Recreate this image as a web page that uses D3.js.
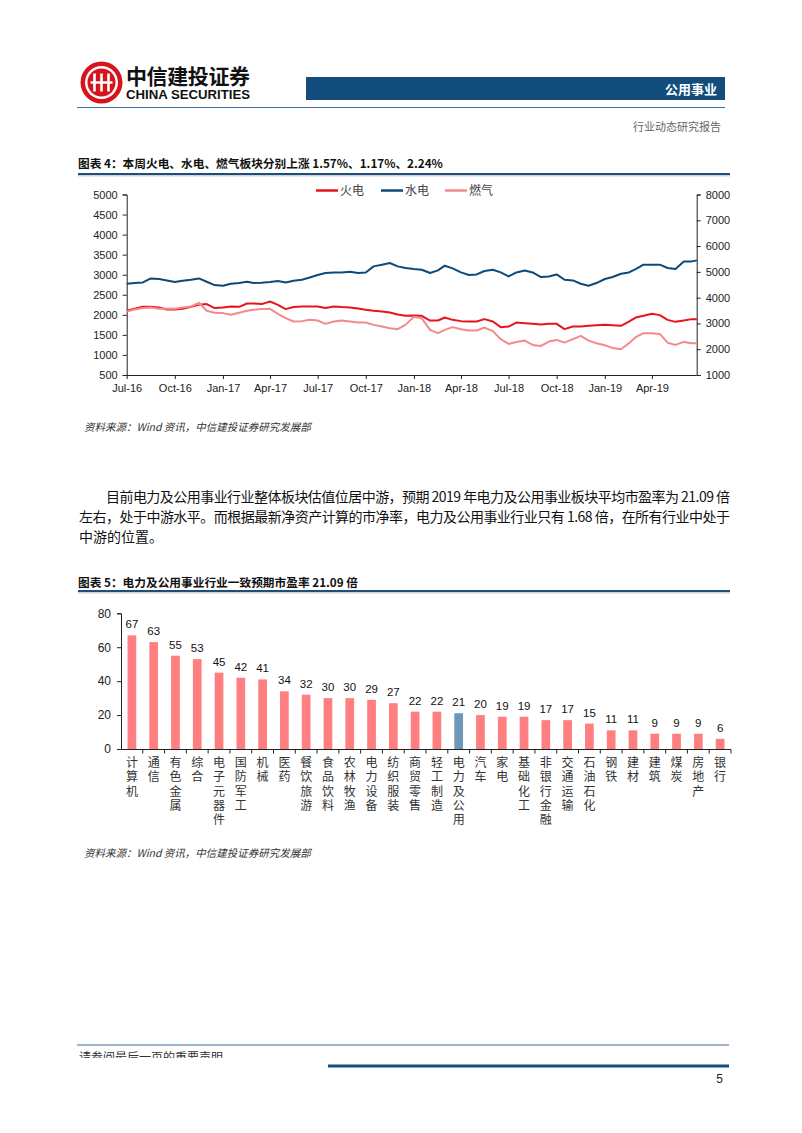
<!DOCTYPE html>
<html><head><meta charset="utf-8">
<script src="https://cdn.jsdelivr.net/npm/d3@7"></script>
<style>
html,body{margin:0;padding:0;background:#fff;}
svg{display:block;}
</style></head><body>
<svg id="page" width="802" height="1133"></svg>
<script>
// ---------- Figure 4 data (half-monthly readings) ----------
const dates = [
"2016-07-01","2016-07-16","2016-08-01","2016-08-16","2016-09-01","2016-09-16","2016-10-01","2016-10-16","2016-11-01","2016-11-16","2016-12-01","2016-12-16",
"2017-01-01","2017-01-16","2017-02-01","2017-02-16","2017-03-01","2017-03-16","2017-04-01","2017-04-16","2017-05-01","2017-05-16","2017-06-01","2017-06-16",
"2017-07-01","2017-07-16","2017-08-01","2017-08-16","2017-09-01","2017-09-16","2017-10-01","2017-10-16","2017-11-01","2017-11-16","2017-12-01","2017-12-16",
"2018-01-01","2018-01-16","2018-02-01","2018-02-16","2018-03-01","2018-03-16","2018-04-01","2018-04-16","2018-05-01","2018-05-16","2018-06-01","2018-06-16",
"2018-07-01","2018-07-16","2018-08-01","2018-08-16","2018-09-01","2018-09-16","2018-10-01","2018-10-16","2018-11-01","2018-11-16","2018-12-01","2018-12-16",
"2019-01-01","2019-01-16","2019-02-01","2019-02-16","2019-03-01","2019-03-16","2019-04-01","2019-04-16","2019-05-01","2019-05-16","2019-06-01","2019-06-16","2019-06-26"];
// 火电 (left axis)
const thermal = [2100,2150,2200,2200,2183,2133,2133,2150,2200,2250,2268,2168,
2183,2208,2200,2283,2283,2268,2333,2250,2143,2193,2208,2208,
2208,2168,2208,2193,2183,2158,2125,2100,2083,2058,2008,1975,
1983,1975,1858,1858,1933,1875,1843,1833,1833,1893,1833,1693,
1708,1808,1793,1775,1758,1775,1775,1643,1708,1708,1725,1743,
1750,1743,1725,1833,1933,1975,2025,1993,1875,1825,1858,1893,1893];
// 水电 (right axis)
const hydro = [4539,4566,4589,4745,4722,4667,4605,4656,4694,4745,4617,4488,
4461,4539,4566,4617,4566,4578,4605,4644,4589,4656,4694,4784,
4877,4955,4978,4978,5005,4955,4978,5212,5278,5344,5212,5149,
5110,5083,4955,5056,5239,5134,4978,4877,4900,5033,5083,4978,
4823,4978,5056,4978,4799,4823,4900,4694,4667,4539,4461,4566,
4722,4799,4928,4978,5110,5278,5278,5278,5149,5110,5406,5406,5445];
// 燃气 (left axis)
const gas = [2083,2133,2168,2183,2150,2150,2150,2183,2208,2300,2100,2050,
2043,2000,2050,2100,2125,2143,2150,2025,1918,1833,1843,1875,
1858,1775,1833,1858,1833,1808,1808,1750,1708,1668,1643,1750,
1950,1913,1625,1543,1625,1693,1643,1608,1608,1683,1593,1393,
1275,1325,1358,1250,1225,1333,1375,1308,1393,1475,1358,1293,
1243,1175,1143,1293,1443,1543,1543,1525,1308,1250,1325,1293,1293];
const seriesNames = ["火电","水电","燃气"];
const seriesColors = ["#E8141C","#0C4A7C","#F4898C"];
const leftTicks = [500,1000,1500,2000,2500,3000,3500,4000,4500,5000];
const rightTicks = [1000,2000,3000,4000,5000,6000,7000,8000];
const xTickDates = ["2016-07-01","2016-10-01","2017-01-01","2017-04-01","2017-07-01","2017-10-01","2018-01-01","2018-04-01","2018-07-01","2018-10-01","2019-01-01","2019-04-01"];

// ---------- Figure 5 data ----------
const categories = ["计算机","通信","有色金属","综合","电子元器件","国防军工","机械","医药","餐饮旅游","食品饮料","农林牧渔","电力设备","纺织服装","商贸零售","轻工制造","电力及公用","汽车","家电","基础化工","非银行金融","交通运输","石油石化","钢铁","建材","建筑","煤炭","房地产","银行"];
const peValues = [67,63,55,53,45,42,41,34,32,30,30,29,27,22,22,21.09,20,19,19,17,17,15,11,11,9,9,9,6];
const highlightCategory = "电力及公用";
const peTicks = [0,20,40,60,80];

// ---------- page ----------
const svg = d3.select("#page");
const CJK = "'Noto Sans CJK SC','Noto Sans',sans-serif";
const LAT = "'Liberation Sans',Arial,sans-serif";
const NAVY = "#124D7D";

svg.append("rect").attr("width",802).attr("height",1133).attr("fill","#fff");

// header logo
const logo = svg.append("g").attr("transform","translate(101.5,82.5)");
logo.append("circle").attr("r",21).attr("fill","#D7141D");
logo.append("circle").attr("r",16.5).attr("fill","#fff");
logo.append("circle").attr("r",14).attr("fill","#D7141D");
[-7,0,7].forEach(dx=>{
  logo.append("rect").attr("x",dx-1.3).attr("y",-9).attr("width",2.6).attr("height",18).attr("fill","#fff");
});
logo.append("rect").attr("x",-11).attr("y",-1.2).attr("width",22).attr("height",2.4).attr("fill","#fff");
svg.append("text").attr("x",126).attr("y",84).attr("font-family",CJK).attr("font-weight",700)
  .attr("font-size",21).attr("textLength",124).attr("fill","#111").text("中信建投证券");
svg.append("text").attr("x",126).attr("y",99).attr("font-family",LAT).attr("font-weight",700)
  .attr("font-size",12.5).attr("textLength",124).attr("lengthAdjust","spacingAndGlyphs").attr("fill","#111").text("CHINA SECURITIES");
svg.append("rect").attr("x",306).attr("y",77).attr("width",419).attr("height",23).attr("fill",NAVY);
svg.append("text").attr("x",717).attr("y",94).attr("text-anchor","end").attr("font-family",CJK)
  .attr("font-weight",700).attr("font-size",13).attr("fill","#fff").text("公用事业");
svg.append("line").attr("x1",77).attr("x2",725).attr("y1",107.5).attr("y2",107.5).attr("stroke","#3D6F9A").attr("stroke-width",1.2);
svg.append("text").attr("x",721).attr("y",131).attr("text-anchor","end").attr("font-family",CJK)
  .attr("font-size",11).attr("fill","#666").text("行业动态研究报告");

// figure title helper
function figTitle(y, txt, lineY){
  svg.append("text").attr("x",78).attr("y",y).attr("font-family",CJK).attr("font-weight",700)
    .attr("font-size",11.7).attr("fill","#111").text(txt);
  svg.append("line").attr("x1",78).attr("x2",730).attr("y1",lineY).attr("y2",lineY).attr("stroke","#1F4E79").attr("stroke-width",2.2);
  svg.append("line").attr("x1",78).attr("x2",730).attr("y1",lineY+1.8).attr("y2",lineY+1.8).attr("stroke","#9DB3C8").attr("stroke-width",0.8);
}
figTitle(168,"图表 4：本周火电、水电、燃气板块分别上涨 1.57%、1.17%、2.24%",174);

// ---------- Figure 4 chart ----------
const parse = d3.timeParse("%Y-%m-%d");
const dts = dates.map(parse);
const x = d3.scaleTime().domain([parse("2016-07-01"), parse("2019-07-01")]).range([126.7, 699.5]);
const xEnd = 696.7;
const yL = d3.scaleLinear().domain([500,5000]).range([375,194.5]);
const yR = d3.scaleLinear().domain([1000,8000]).range([375,194.5]);

const c1 = svg.append("g");
const axL = c1.append("g").attr("transform","translate(126.7,0)")
  .call(d3.axisLeft(yL).tickValues(leftTicks).tickSize(4).tickPadding(5).tickFormat(d3.format("d")));
const axR = c1.append("g").attr("transform",`translate(${xEnd},0)`)
  .call(d3.axisRight(yR).tickValues(rightTicks).tickSize(4).tickPadding(5).tickFormat(d3.format("d")));
const axB = c1.append("g").attr("transform","translate(0,375)")
  .call(d3.axisBottom(x).tickValues(xTickDates.map(parse)).tickSize(4).tickPadding(5).tickFormat(d3.timeFormat("%b-%y")));
axB.select(".domain").attr("d",`M126.7,0.5H${xEnd}`);
[axL,axR,axB].forEach(a=>{
  a.selectAll("text").attr("font-family",LAT).attr("font-size",11).attr("fill","#222");
  a.selectAll("line,path").attr("stroke","#222");
});

const lineL = d3.line().x((d,i)=>x(dts[i])).y(d=>yL(d));
const lineR = d3.line().x((d,i)=>x(dts[i])).y(d=>yR(d));
c1.append("path").datum(thermal).attr("d",lineL).attr("fill","none").attr("stroke",seriesColors[0]).attr("stroke-width",2).attr("stroke-linejoin","round");
c1.append("path").datum(hydro).attr("d",lineR).attr("fill","none").attr("stroke",seriesColors[1]).attr("stroke-width",2).attr("stroke-linejoin","round");
c1.append("path").datum(gas).attr("d",lineL).attr("fill","none").attr("stroke",seriesColors[2]).attr("stroke-width",2).attr("stroke-linejoin","round");

// legend
const legX = [316,381,445];
seriesNames.forEach((n,i)=>{
  const g = c1.append("g").attr("transform",`translate(${legX[i]},190.5)`);
  g.append("line").attr("x1",0).attr("x2",22).attr("stroke",seriesColors[i]).attr("stroke-width",2.5);
  g.append("text").attr("x",24).attr("y",4.5).attr("font-family",CJK).attr("font-size",12).attr("fill","#444").text(n);
});

// source lines
function source(y){
  svg.append("text").attr("x",84).attr("y",y).attr("font-family",CJK).attr("font-style","italic")
    .attr("font-size",10.5).attr("fill","#333").text("资料来源：Wind 资讯，中信建投证券研究发展部");
}
source(431);

// paragraph
const para = [
  {x:106, w:624, t:"目前电力及公用事业行业整体板块估值位居中游，预期 2019 年电力及公用事业板块平均市盈率为 21.09 倍"},
  {x:79, w:651, t:"左右，处于中游水平。而根据最新净资产计算的市净率，电力及公用事业行业只有 1.68 倍，在所有行业中处于"},
  {x:79, w:null, t:"中游的位置。"}
];
para.forEach((p,i)=>{
  const t = svg.append("text").attr("x",p.x).attr("y",502+i*20).attr("font-family",CJK)
    .attr("font-size",14).attr("fill","#111").text(p.t);
  if(p.w) t.attr("textLength",p.w).attr("lengthAdjust","spacing");
});

// ---------- Figure 5 chart ----------
figTitle(587,"图表 5：电力及公用事业行业一致预期市盈率 21.09 倍",591);

const xb = d3.scaleBand().domain(categories).range([121,731]).paddingInner(0.6).paddingOuter(0.3);
const yb = d3.scaleLinear().domain([0,80]).range([749,613.3]);
const c2 = svg.append("g");
const ay = c2.append("g").attr("transform","translate(121,0)")
  .call(d3.axisLeft(yb).tickValues(peTicks).tickSize(4).tickPadding(6).tickFormat(d3.format("d")));
ay.selectAll("text").attr("font-family",LAT).attr("font-size",12).attr("fill","#222");
ay.selectAll("line,path").attr("stroke","#222");
// x axis line + ticks between bands
const step = xb.step();
c2.append("line").attr("x1",121).attr("x2",731).attr("y1",749.5).attr("y2",749.5).attr("stroke","#222");
c2.selectAll(".xt").data(categories).enter().append("line")
  .attr("x1",d=>xb(d)+xb.bandwidth()/2+step/2).attr("x2",d=>xb(d)+xb.bandwidth()/2+step/2)
  .attr("y1",749.5).attr("y2",753.5).attr("stroke","#222");

c2.selectAll(".bar").data(peValues).enter().append("rect")
  .attr("x",(d,i)=>xb(categories[i])).attr("width",xb.bandwidth())
  .attr("y",d=>yb(d)).attr("height",d=>yb(0)-yb(d))
  .attr("fill",(d,i)=>categories[i]===highlightCategory?"#6E97B8":"#FF7F80");
c2.selectAll(".val").data(peValues).enter().append("text")
  .attr("x",(d,i)=>xb(categories[i])+xb.bandwidth()/2).attr("y",d=>yb(d)-7)
  .attr("text-anchor","middle").attr("font-family",LAT).attr("font-size",11.5).attr("fill","#111")
  .text(d=>d3.format(".0f")(d));
// vertical category labels (one text per category, vertical writing mode)
c2.selectAll(".cat").data(categories).enter().append("text")
  .attr("x",d=>xb(d)+xb.bandwidth()/2).attr("y",756.5)
  .style("writing-mode","vertical-rl").style("text-orientation","upright")
  .attr("letter-spacing",2.3)
  .attr("font-family",CJK).attr("font-size",12).attr("fill","#333")
  .text(d=>d);

source(857);

// footer
svg.append("line").attr("x1",77).attr("x2",729).attr("y1",1045).attr("y2",1045).attr("stroke","#3D6F9A").attr("stroke-width",1.2);
svg.append("clipPath").attr("id","fclip").append("rect").attr("x",70).attr("y",1046).attr("width",300).attr("height",12);
svg.append("text").attr("x",79).attr("y",1062).attr("clip-path","url(#fclip)").attr("font-family",CJK)
  .attr("font-size",12).attr("fill","#333").text("请参阅最后一页的重要声明");
svg.append("line").attr("x1",328).attr("x2",729).attr("y1",1066).attr("y2",1066).attr("stroke",NAVY).attr("stroke-width",3);
svg.append("text").attr("x",723).attr("y",1083).attr("text-anchor","end").attr("font-family",LAT)
  .attr("font-size",12).attr("fill","#222").text("5");
</script>
</body></html>
